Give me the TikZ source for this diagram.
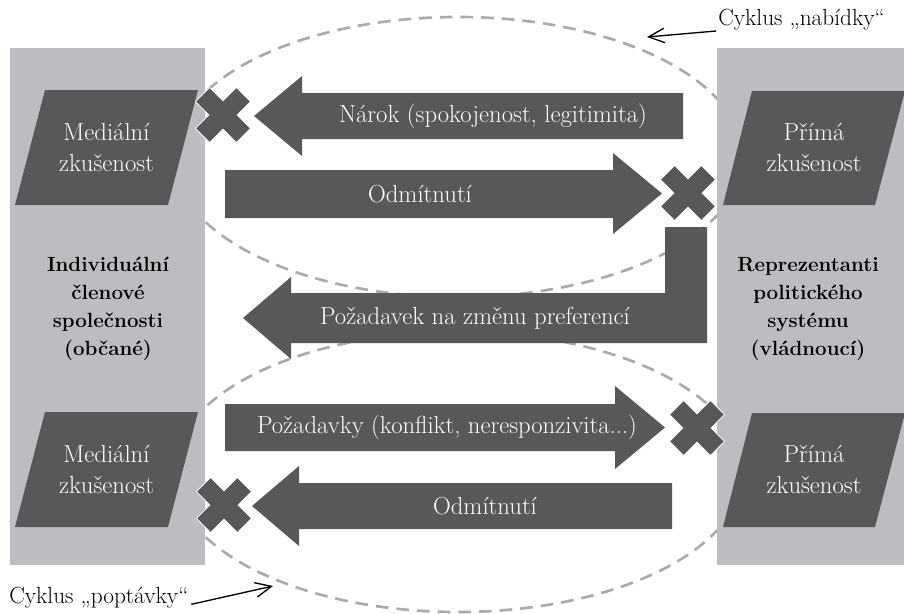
\documentclass[tikz,border=0pt]{standalone}
\usepackage{tikz}
\usetikzlibrary{arrows.meta}
\definecolor{shapegray}{HTML}{58585A}
\definecolor{panelgray}{HTML}{BCBDC0}
\definecolor{dashgray}{HTML}{ABABAB}

\begin{document}
\begin{tikzpicture}[x=0.75pt,y=0.75pt,yscale=-1,xscale=1,
  panel/.style={fill=panelgray},
  darkshape/.style={fill=shapegray},
  cycleline/.style={draw=dashgray,line width=2pt,dash pattern=on 9.5pt off 6pt},
  whitetext/.style={text=white,inner sep=0pt,align=center,font=\fontsize{18.5}{23.25}\selectfont},
  boldtext/.style={inner sep=0pt,align=center,font=\fontsize{15.4}{21}\selectfont\bfseries},
  cyclelabel/.style={inner sep=0pt,font=\fontsize{17.5}{20}\selectfont},
  pointer/.style={draw=black,line width=1pt,-{Straight Barb[length=12pt,width=11pt]}},
  crossmark/.style={fill=shapegray,draw=white,line width=0.6pt}]
\useasboundingbox (0,0) rectangle (904,614);

%Dashed cycles
\draw[cycleline] (458,157) ellipse [x radius=285, y radius=140];
\draw[cycleline] (458,472) ellipse [x radius=285, y radius=140];

%Shape: side panels
\fill[panel] (10,48) rectangle (205,565);
\fill[panel] (717,48) rectangle (904,565);

%Shape: parallelograms
\fill[darkshape] (45,90) -- (198,90) -- (168,205) -- (15,205) -- cycle;
\fill[darkshape] (45,412) -- (198,412) -- (168,527) -- (15,527) -- cycle;
\fill[darkshape] (752,91) -- (905,91) -- (875,205) -- (723,205) -- cycle;
\fill[darkshape] (752,413) -- (905,413) -- (875,527) -- (723,527) -- cycle;

%Block arrow: claim (to the left)
\fill[darkshape] (683,93) -- (302,93) -- (302,76) -- (254,116) -- (302,156) -- (302,139) -- (683,139) -- cycle;
%Block arrow: rejection (to the right)
\fill[darkshape] (225,170) -- (613,170) -- (613,153) -- (662,193.5) -- (613,234) -- (613,218) -- (225,218) -- cycle;
%Block arrow: bent one
\fill[darkshape] (665,227) -- (707,227) -- (707,343) -- (291,343) -- (291,359) -- (243,318) -- (291,277) -- (291,293) -- (665,293) -- cycle;
%Block arrow: demands (to the right)
\fill[darkshape] (225,404) -- (615,404) -- (615,386) -- (665,427.5) -- (615,469) -- (615,451) -- (225,451) -- cycle;
%Block arrow: rejection (to the left)
\fill[darkshape] (672,483) -- (299,483) -- (299,466) -- (252,506) -- (299,546) -- (299,529) -- (672,529) -- cycle;

%Crosses
\foreach \cx/\cy in {223/115, 688/193, 697/428, 224/505}
{
  \begin{scope}[shift={(\cx,\cy)},rotate=45]
    \filldraw[crossmark] (-29,-10) -- (-10,-10) -- (-10,-29) -- (10,-29) -- (10,-10) -- (29,-10)
      -- (29,10) -- (10,10) -- (10,29) -- (-10,29) -- (-10,10) -- (-29,10) -- cycle;
  \end{scope}
}

% Text Node
\node[whitetext] (media1) at (106.5,147.5) {Mediální\\zkušenost};
\node[whitetext] (media2) at (106.5,469.5) {Mediální\\zkušenost};
\node[whitetext] (direct1) at (814,148) {Přímá\\zkušenost};
\node[whitetext] (direct2) at (814,470) {Přímá\\zkušenost};
\node[boldtext] (citizens) at (108,309) {Individuální\\členové\\společnosti\\(občané)};
\node[boldtext] (rulers) at (808,309) {Reprezentanti\\politického\\systému\\(vládnoucí)};
\node[whitetext] (claim) at (493,116) {Nárok (spokojenost, legitimita)};
\node[whitetext] (reject1) at (420,194) {Odmítnutí};
\node[whitetext] (change) at (475,318) {Požadavek na změnu preferencí};
\node[whitetext] (demands) at (447,427.5) {Požadavky (konflikt, neresponzivita...)};
\node[whitetext] (reject2) at (485,506) {Odmítnutí};

% Cycle labels
\node[cyclelabel,anchor=base west] (supply) at (718,26) {Cyklus „nabídky“};
\node[cyclelabel,anchor=base west] (demand) at (9,603) {Cyklus „poptávky“};
\coordinate (supplytip) at (647,37);
\coordinate (demandtip) at (273,586);
\draw[pointer] ([xshift=-1.5pt,yshift=3.75pt]supply.base west) -- (supplytip);
\draw[pointer] ([xshift=2pt,yshift=1pt]demand.base east) -- (demandtip);

\end{tikzpicture}
\end{document}
